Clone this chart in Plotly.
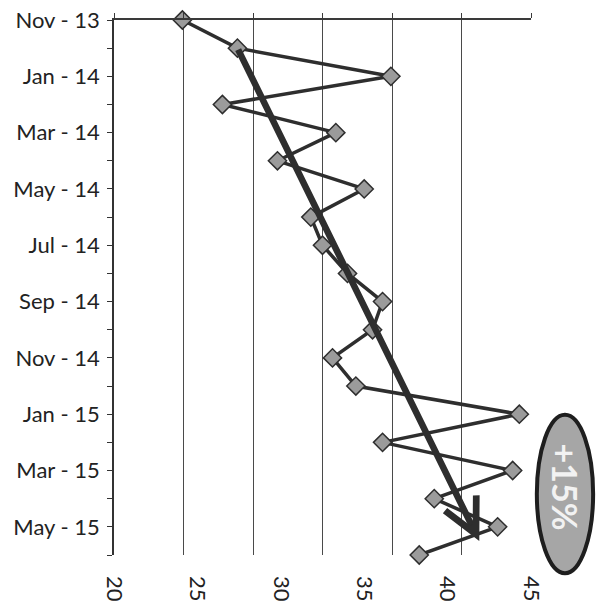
import plotly.graph_objects as go

# Monthly series, Nov 2013 – Jun 2015
months = [
    "Nov - 13", "Dec - 13", "Jan - 14", "Feb - 14", "Mar - 14", "Apr - 14",
    "May - 14", "Jun - 14", "Jul - 14", "Aug - 14", "Sep - 14", "Oct - 14",
    "Nov - 14", "Dec - 14", "Jan - 15", "Feb - 15", "Mar - 15", "Apr - 15",
    "May - 15", "Jun - 15",
]
values = [
    24.1, 27.4, 36.6, 26.5, 33.3, 29.8, 35.0, 31.8, 32.5, 34.0,
    36.1, 35.5, 33.1, 34.5, 44.3, 36.1, 43.9, 39.2, 43.0, 38.3,
]

# Value-axis labels and the (coarser) gridline spacing
value_ticks = [20, 25, 30, 35, 40, 45]
grid_positions = [20 + k * 25 / 6 for k in range(7)]

# Trend arrow: month position (index) and value at tail and head
trend_pos = [1, 18.5]
trend_values = [27.4, 41.9]

badge_text = "+15%"

idx = list(range(len(months)))
tick_text = [m if i % 2 == 0 else "" for i, m in enumerate(months)]

DARK = "#2e2e2e"
FONT = "Lato"

fig = go.Figure()

# carrier trace for the top axis (gridlines + frame line)
fig.add_trace(go.Scatter(
    x=[grid_positions[0], grid_positions[-1]], y=[0, 0], xaxis="x2",
    mode="markers", marker=dict(opacity=0), hoverinfo="skip", showlegend=False,
))

fig.add_trace(go.Scatter(
    x=values, y=idx, mode="lines+markers",
    line=dict(color=DARK, width=3.5),
    marker=dict(symbol="diamond", size=14, color="#9b9b9b",
                line=dict(color=DARK, width=1.5)),
    cliponaxis=False, showlegend=False,
))

# trend arrow
fig.add_annotation(
    x=trend_values[1], y=trend_pos[1], ax=trend_values[0], ay=trend_pos[0],
    xref="x", yref="y", axref="x", ayref="y",
    showarrow=True, arrowhead=5, arrowsize=1.05, arrowwidth=6.5,
    arrowcolor=DARK, text="", standoff=0, startstandoff=0,
)

# grey badge
fig.add_shape(
    type="circle", xref="paper", yref="paper",
    x0=1.014, x1=1.149, y0=-0.034, y1=0.262,
    fillcolor="#a6a6a6", line=dict(color="#1e1e1e", width=4), layer="below",
)
fig.add_annotation(
    xref="paper", yref="paper", x=1.0815, y=0.126,
    xanchor="center", yanchor="middle",
    text="<b>" + badge_text + "</b>",
    textangle=90, showarrow=False,
    font=dict(family=FONT, size=34, color="#f2f2f2"),
)

fig.update_layout(
    width=603, height=607,
    margin=dict(l=114, r=72, t=20, b=52, autoexpand=False),
    paper_bgcolor="white", plot_bgcolor="white",
    font=dict(family=FONT, color="#222222"),
    xaxis=dict(
        range=[20, 45], tickvals=value_ticks, tickangle=90,
        showgrid=False, zeroline=False, showline=False, ticks="",
        ticklabelstandoff=20, tickfont=dict(size=22, family=FONT),
        automargin=False,
    ),
    xaxis2=dict(
        range=[20, 45], overlaying="x", side="top", anchor="y",
        tickvals=grid_positions, showticklabels=False,
        showgrid=True, gridcolor="#4a4a4a", gridwidth=1,
        showline=True, linecolor="#3a3a3a", linewidth=1.5,
        ticks="outside", ticklen=5, tickcolor="#3a3a3a",
        zeroline=False, automargin=False,
    ),
    yaxis=dict(
        range=[19, 0], tickvals=idx, ticktext=tick_text,
        showgrid=False, zeroline=False,
        showline=True, linecolor="#333333", linewidth=1.5,
        ticks="outside", ticklen=5, tickcolor="#333333",
        tickfont=dict(size=22, family=FONT), ticklabelstandoff=3,
        automargin=False,
    ),
)

fig.write_html("out.html")
